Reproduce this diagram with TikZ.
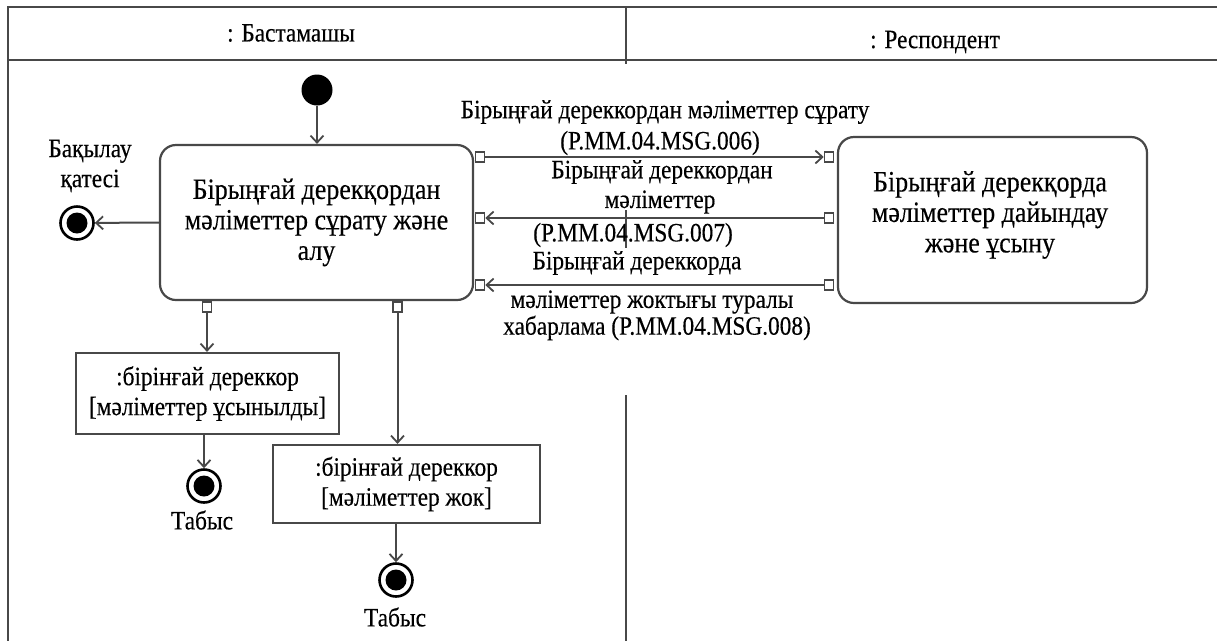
\documentclass[tikz,border=0pt]{standalone}
\usepackage{fontspec}
\setmainfont{Liberation Serif}[FakeStretch=0.88, FakeBold=0.3]
\usetikzlibrary{arrows.meta}
\definecolor{linec}{HTML}{484848}
\begin{document}
\begin{tikzpicture}[x=1pt,y=-1pt,
  frame/.style={draw=linec, line width=2.2pt},
  txt/.style={font=\fontsize{26.5}{30}\selectfont, text=black, align=center, inner sep=0pt},
  bigtxt/.style={txt, font=\fontsize{29.5}{30.5}\selectfont},
  act/.style={bigtxt, draw=linec, line width=2.2pt, rounded corners=16pt, fill=white},
  obj/.style={txt, draw=linec, line width=2.2pt, fill=white},
  pinsq/.style={draw=linec, line width=1.6pt, fill=white, minimum width=9pt, minimum height=10pt, inner sep=0pt},
  flow/.style={draw=linec, line width=2pt, -{Straight Barb[length=7pt,width=13pt,line width=1.8pt]}},
  startnode/.style={circle, fill=black, minimum size=31pt, inner sep=0pt},
  endnode/.style={circle, draw=black, line width=2.6pt, fill=white, minimum size=33pt, inner sep=0pt,
    path picture={\fill[black] (path picture bounding box.center) circle (10.5pt);}}
]
\useasboundingbox (0,0) rectangle (1217,641);

% swimlane frame
\draw[frame] (1217,7) -- (8,7) -- (8,641);
\draw[frame] (8,60) -- (1217,60);
\draw[frame] (626,7) -- (626,64);
\draw[frame] (626,210) -- (626,248);
\draw[frame] (626,395) -- (626,641);
\node[txt] (lane1) at (291,33) {: Бастамашы};
\node[txt] (lane2) at (935,42) {: Респондент};

% actions
\node[act, minimum width=313pt, minimum height=155pt] (A) at (316.5,222.5)
  {Бірыңғай дерекқордан\\мәліметтер сұрату және\\алу};
\node[act, minimum width=309pt, minimum height=166pt] (B) at (992.5,220) {};
\node[bigtxt] (Bt) at (990,215) {Бірыңғай дерекқорда\\мәліметтер дайындау\\және ұсыну};

% object nodes
\node[obj, minimum width=263pt, minimum height=81pt] (C) at (207.5,393.5)
  {:бірінғай дереккор\\{}[мәліметтер ұсынылды]};
\node[obj, minimum width=267pt, minimum height=78pt] (D) at (406.5,484)
  {:бірінғай дереккор\\{}[мәліметтер жок]};

% initial and final nodes
\node[startnode] (start) at (317,90) {};
\node[endnode] (ferr) at (77,223) {};
\node[endnode] (fc) at (204,486) {};
\node[endnode] (fd) at (396,580) {};
\node[txt] (lerr) at (90,166) {Бақылау\\қатесі};
\node[txt] (lfc) at (202,520) {Табыс};
\node[txt] (lfd) at (395,617) {Табыс};

% pins
\node[pinsq] (pa1) at (480,157) {};
\node[pinsq] (pa2) at (480,218) {};
\node[pinsq] (pa3) at (480,285) {};
\node[pinsq] (pb1) at (829,157) {};
\node[pinsq] (pb2) at (829,218) {};
\node[pinsq] (pb3) at (829,285) {};
\node[pinsq] (pa4) at (207,307) {};
\node[pinsq] (pa5) at (397.5,307) {};

% flows
\draw[flow] (start) -- (start |- A.north);
\draw[flow] (A.west) -- (ferr);
\draw[flow] (pa1) -- (pb1);
\draw[flow] (pb2) -- (pa2);
\draw[flow] (pb3) -- (pa3);
\draw[flow] (pa4) -- (pa4 |- C.north);
\draw[flow] (fc |- C.south) -- (fc);
\draw[flow] (pa5) -- (pa5 |- D.north);
\draw[flow] (fd |- D.south) -- (fd);

% message labels
\node[txt] (m1a) at (665,112) {Бірыңғай дереккордан мәліметтер сұрату};
\node[txt] (m1b) at (660,143) {(P.MM.04.MSG.006)};
\node[txt] (m2a) at (662,172) {Бірыңғай дереккордан};
\node[txt] (m2b) at (660,202) {мәліметтер};
\node[txt] (m2c) at (633,235) {(P.MM.04.MSG.007)};
\node[txt] (m3a) at (637,263) {Бірыңғай дереккорда};
\node[txt] (m3b) at (652,302) {мәліметтер жоктығы туралы};
\node[txt] (m3c) at (657,328) {хабарлама (P.MM.04.MSG.008)};
\end{tikzpicture}
\end{document}
